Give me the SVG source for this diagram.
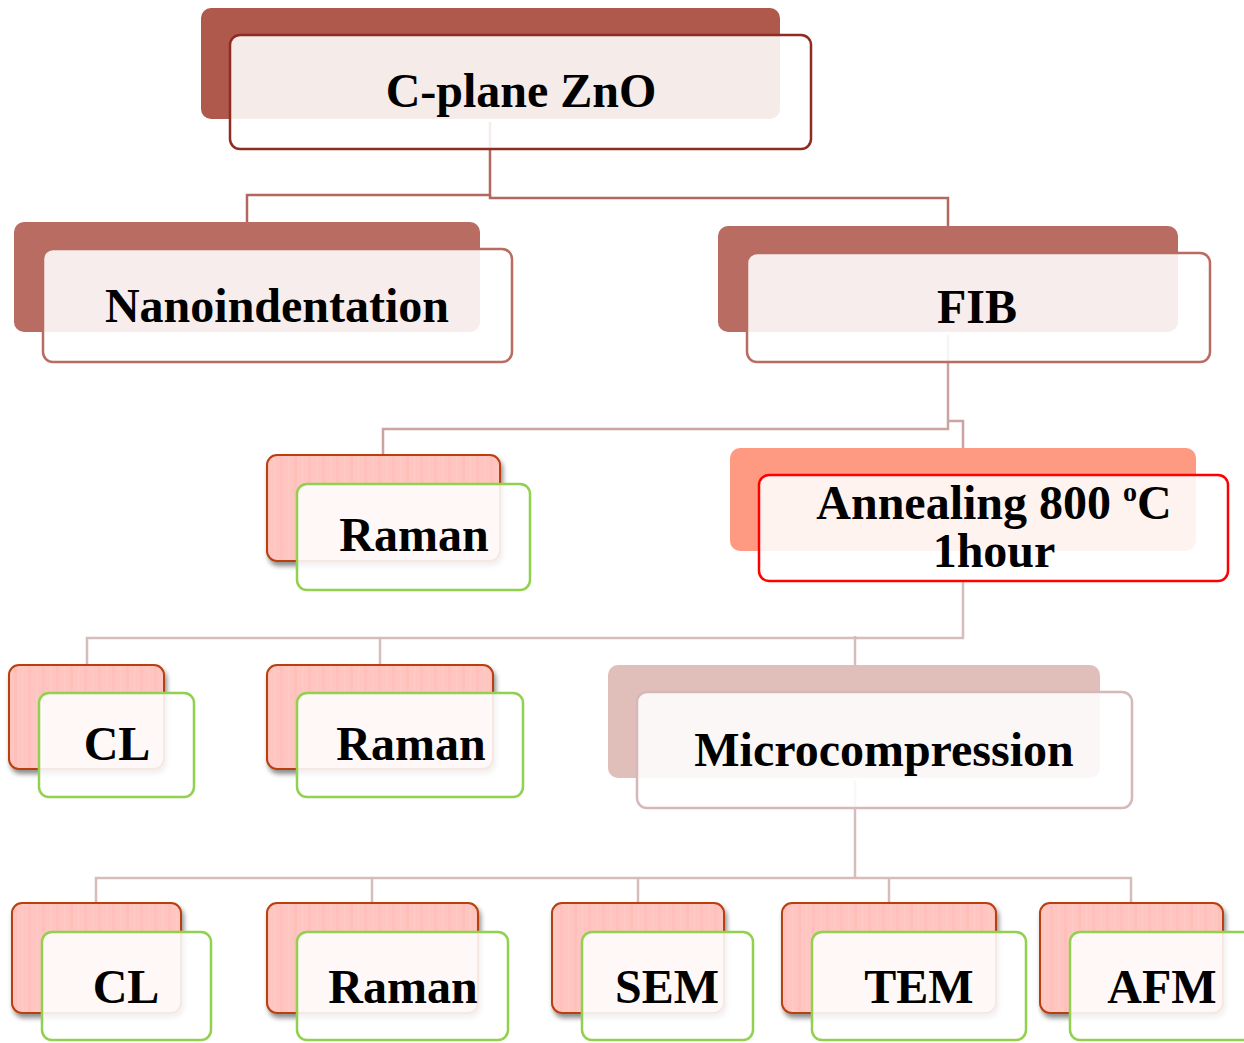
<svg xmlns="http://www.w3.org/2000/svg" width="1244" height="1043" viewBox="0 0 1244 1043">
<defs>
<pattern id="stripes" patternUnits="userSpaceOnUse" width="14" height="20">
<rect width="14" height="20" fill="#FFC5C1"/>
<rect x="0" width="3" height="20" fill="#FFC0BC"/>
<rect x="8" width="1.5" height="20" fill="#FFC9C5"/>
</pattern>
<filter id="shadow" x="-10%" y="-10%" width="130%" height="140%">
<feDropShadow dx="2" dy="4" stdDeviation="2.5" flood-color="#000" flood-opacity="0.45"/>
</filter>
</defs>
<style>
.lbl{font-family:"Liberation Serif","Times New Roman",serif;font-weight:bold;font-size:48px;fill:#000;text-anchor:middle}
.front{fill:#fff;fill-opacity:0.88;stroke-width:2.5}
.c1{fill:none;stroke:#B4675E;stroke-width:2.5}
.c2{fill:none;stroke:#CBA4A2;stroke-width:2.5}
.c3{fill:none;stroke:#D6BDBC;stroke-width:2.5}
.pinkback{fill:url(#stripes);stroke:#B8400F;stroke-width:2;filter:url(#shadow)}
.greenfront{fill:#fff;fill-opacity:0.88;stroke:#92D050;stroke-width:2.5}
</style>
<rect width="1244" height="1043" fill="#fff"/>
<g id="connectors">
<path class="c1" d="M490,122 V195 H247 V222"/>
<path class="c1" d="M490,195 V198 H948 V226"/>
<path class="c2" d="M948,335 V429 H383 V455"/>
<path class="c2" d="M948,421 H963 V448"/>
<path class="c3" d="M963,581 V638 H87 V665"/>
<path class="c3" d="M380,638 V665"/>
<path class="c3" d="M855,636 V665"/>
<path class="c3" d="M855,780 V878"/>
<path class="c3" d="M96,903 V878 H1131 V903"/>
<path class="c3" d="M372,878 V903"/>
<path class="c3" d="M638,878 V903"/>
<path class="c3" d="M889,878 V903"/>
</g>
<g id="node-czno">
<rect x="201" y="8" width="579" height="111" rx="10" fill="#AE594B"/>
<rect class="front" x="230" y="35" width="581" height="114" rx="10" stroke="#8E2B22"/>
<text class="lbl" x="521" y="107">C-plane ZnO</text>
</g>
<g id="node-nano">
<rect x="14" y="222" width="466" height="110" rx="10" fill="#B86C62"/>
<rect class="front" x="43" y="249" width="469" height="113" rx="10" stroke="#B86C62"/>
<text class="lbl" x="277" y="322">Nanoindentation</text>
</g>
<g id="node-fib">
<rect x="718" y="226" width="460" height="106" rx="10" fill="#B86C62"/>
<rect class="front" x="747" y="253" width="463" height="109" rx="10" stroke="#B86C62"/>
<text class="lbl" x="977" y="323">FIB</text>
</g>
<g id="node-raman1">
<rect class="pinkback" x="267" y="455" width="233" height="106" rx="10"/>
<rect class="greenfront" x="297" y="484" width="233" height="106" rx="10"/>
<text class="lbl" x="414" y="551">Raman</text>
</g>
<g id="node-anneal">
<rect x="730" y="448" width="466" height="103" rx="10" fill="#FF9A82"/>
<rect class="front" x="759" y="475" width="469" height="106" rx="10" stroke="#FF0000"/>
<text class="lbl" x="994" y="519">Annealing 800 <tspan font-size="28" dy="-18">o</tspan><tspan dy="18">C</tspan></text>
<text class="lbl" x="994" y="567">1hour</text>
</g>
<g id="node-cl1">
<rect class="pinkback" x="9" y="665" width="155" height="104" rx="10"/>
<rect class="greenfront" x="39" y="693" width="155" height="104" rx="10"/>
<text class="lbl" x="117" y="760">CL</text>
</g>
<g id="node-raman2">
<rect class="pinkback" x="267" y="665" width="226" height="104" rx="10"/>
<rect class="greenfront" x="297" y="693" width="226" height="104" rx="10"/>
<text class="lbl" x="411" y="760">Raman</text>
</g>
<g id="node-micro">
<rect x="608" y="665" width="492" height="113" rx="10" fill="#E0BEBA"/>
<rect class="front" x="637" y="692" width="495" height="116" rx="10" stroke="#D6B8B8"/>
<text class="lbl" x="884" y="766">Microcompression</text>
</g>
<g id="node-cl2">
<rect class="pinkback" x="12" y="903" width="169" height="110" rx="10"/>
<rect class="greenfront" x="42" y="932" width="169" height="108" rx="10"/>
<text class="lbl" x="126" y="1003">CL</text>
</g>
<g id="node-raman3">
<rect class="pinkback" x="267" y="903" width="211" height="110" rx="10"/>
<rect class="greenfront" x="297" y="932" width="211" height="108" rx="10"/>
<text class="lbl" x="403" y="1003">Raman</text>
</g>
<g id="node-sem">
<rect class="pinkback" x="552" y="903" width="172" height="110" rx="10"/>
<rect class="greenfront" x="582" y="932" width="171" height="108" rx="10"/>
<text class="lbl" x="667" y="1003">SEM</text>
</g>
<g id="node-tem">
<rect class="pinkback" x="782" y="903" width="214" height="110" rx="10"/>
<rect class="greenfront" x="812" y="932" width="214" height="108" rx="10"/>
<text class="lbl" x="919" y="1003">TEM</text>
</g>
<g id="node-afm">
<rect class="pinkback" x="1040" y="903" width="183" height="110" rx="10"/>
<rect class="greenfront" x="1070" y="932" width="184" height="108" rx="10"/>
<text class="lbl" x="1162" y="1003">AFM</text>
</g>
</svg>
